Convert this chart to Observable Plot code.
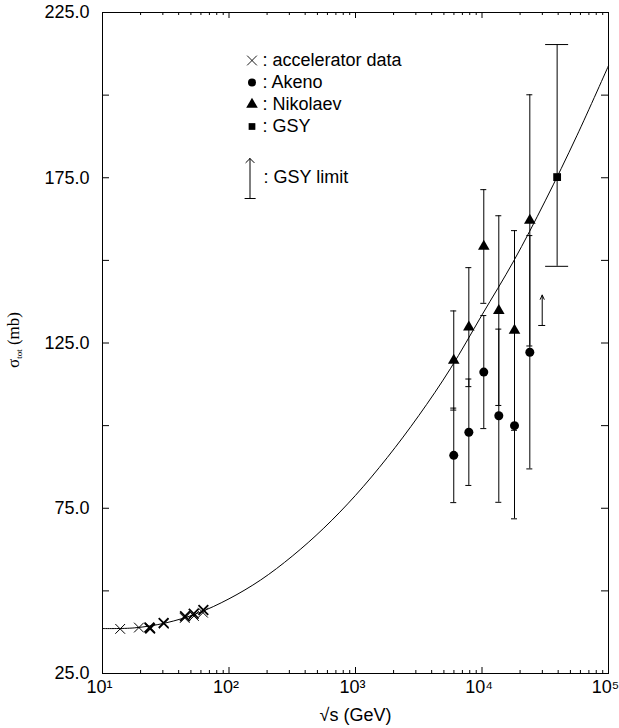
<!DOCTYPE html>
<html><head><meta charset="utf-8">
<script src="https://cdn.jsdelivr.net/npm/d3@7"></script>
<script src="https://cdn.jsdelivr.net/npm/@observablehq/plot@0.6"></script>
<style>body{margin:0;background:#fff} svg{display:block}</style>
</head><body><div id="chart"></div>
<script>
// accelerator data (sqrt(s) in GeV, sigma_tot in mb)
const accelE     = [13.8, 19.4, 23.5, 30.6, 44.7, 52.8, 62.3, 23.8, 30.4, 44.9, 52.6, 62.7];
const accelSigma = [38.5, 38.9, 38.9, 40.1, 41.8, 42.4, 43.4, 38.6, 40.3, 42.3, 43.1, 44.2];

// fitted curve
const fitE     = [10, 17.8, 31.6, 56.2, 100, 178, 316, 562, 1000, 1780, 3160, 5620, 10000, 17800, 31600, 56200, 100000];
const fitSigma = [38.6, 38.8, 40.3, 43.2, 47.6, 53.3, 60.5, 69.0, 78.9, 90.3, 103.0, 117.2, 133.5, 149.8, 168.0, 187.7, 208.9];

// cosmic-ray energies
const cosmicE     = [5980, 7870, 10330, 13580, 18070, 23880];
const akenoSigma  = [91.0, 98.0, 116.2, 103.0, 100.0, 122.2];
const akenoErr    = [14.3, 16.1, 17.1, 26.2, 28.2, 35.3];
const nikSigma    = [119.7, 129.8, 154.2, 134.8, 128.8, 162.1];
const nikErr      = [15.0, 18.0, 17.2, 28.7, 30.2, 38.0];

// GSY
const gsyE = [39260], gsySigma = [175.2], gsyHi = [215.3], gsyLo = [148.2];
const limitE = [29920], limitSigma = [130.3], limitTip = [139.5];

// axes
const yTickValues  = [25, 50, 75, 100, 125, 150, 175, 200, 225];
const yLabelValues = [25, 75, 125, 175, 225];
const xLabelValues = [10, 100, 1000, 10000, 100000];
const xSup = {1: "¹", 2: "²", 3: "³", 4: "⁴", 5: "⁵"};
const xMinor = [];
for (const dec of [10, 100, 1000, 10000]) for (const m of [2,3,4,5,6,7,8,9]) xMinor.push(dec*m);

const legendLabels = [": accelerator data", ": Akeno", ": Nikolaev", ": GSY"];
const legendLimit = ": GSY limit";
const xTitle = "√s (GeV)";

const accel = accelE.map((e,i)=>({e, s: accelSigma[i], bold: i >= 7 || i === 2}));
const fit = fitE.map((e,i)=>({e, s: fitSigma[i]}));
const akeno = cosmicE.map((e,i)=>({e, s: akenoSigma[i], lo: akenoSigma[i]-akenoErr[i], hi: akenoSigma[i]+akenoErr[i]}));
const nik = cosmicE.map((e,i)=>({e, s: nikSigma[i], lo: nikSigma[i]-nikErr[i], hi: nikSigma[i]+nikErr[i]}));
const gsy = gsyE.map((e,i)=>({e, s: gsySigma[i], lo: gsyLo[i], hi: gsyHi[i]}));
const limit = limitE.map((e,i)=>({e, s: limitSigma[i], tip: limitTip[i]}));

const W = 619, H = 728, mL = 102, mR = 11, mT = 12, mB = 55;
const iw = W - mL - mR, ih = H - mT - mB;
const font = "'Liberation Sans', Arial, Helvetica, sans-serif";

function errMarks(data, cap) {
  return [
    Plot.ruleX(data, {x: "e", y1: "lo", y2: "hi", stroke: "#000", strokeWidth: 1}),
    Plot.ruleY(data, {y: "lo", x1: "e", x2: "e", insetLeft: -cap, insetRight: -cap, stroke: "#000"}),
    Plot.ruleY(data, {y: "hi", x1: "e", x2: "e", insetLeft: -cap, insetRight: -cap, stroke: "#000"})
  ];
}

const legendRows = [
  {symbol: "times", fill: "none", stroke: "#000", strokeWidth: 0.9, r: 4.5},
  {symbol: "circle", fill: "#000", stroke: null, r: 4},
  {symbol: "triangle", fill: "#000", stroke: null, r: 4.3},
  {symbol: "square", fill: "#000", stroke: null, r: 3.8}
];

const plot = Plot.plot({
  width: W, height: H,
  marginLeft: mL, marginRight: mR, marginTop: mT, marginBottom: mB,
  style: {fontFamily: font, fontSize: "18px", color: "#000", background: "#fff"},
  x: {type: "log", domain: [10, 1e5]},
  y: {domain: [25, 225]},
  marks: [
    Plot.frame({stroke: "#000", strokeWidth: 1}),
    // inward ticks
    Plot.tickX(xMinor, {x: d => d, insetTop: ih - 3, stroke: "#000"}),
    Plot.tickX(xMinor, {x: d => d, insetBottom: ih - 3, stroke: "#000"}),
    Plot.tickX(xLabelValues, {x: d => d, insetTop: ih - 6, stroke: "#000"}),
    Plot.tickX(xLabelValues, {x: d => d, insetBottom: ih - 6, stroke: "#000"}),
    Plot.tickY(yTickValues, {y: d => d, insetRight: iw - 7, stroke: "#000"}),
    Plot.tickY(yTickValues, {y: d => d, insetLeft: iw - 7, stroke: "#000"}),
    // tick labels
    Plot.axisX(xLabelValues, {tickSize: 0, tickPadding: 7, label: null, fontSize: 18, dx: -3,
      tickFormat: d => "10" + xSup[Math.round(Math.log10(d))]}),
    Plot.axisY(yLabelValues, {tickSize: 0, tickPadding: 13, label: null, fontSize: 18,
      tickFormat: d => d.toFixed(1)}),
    Plot.text([xTitle], {frameAnchor: "bottom", dy: 42, fontSize: 18, lineAnchor: "middle"}),
    // fit curve
    Plot.line(fit, {x: "e", y: "s", curve: "catmull-rom", stroke: "#000", strokeWidth: 1}),
    // error bars
    ...errMarks(akeno, 3),
    ...errMarks(nik, 3),
    ...errMarks(gsy, 11.5),
    // GSY limit
    Plot.arrow(limit, {x1: "e", x2: "e", y1: "s", y2: "tip", headLength: 7, headAngle: 50, stroke: "#000", strokeWidth: 1}),
    Plot.ruleY(limit, {y: "s", x1: "e", x2: "e", insetLeft: -3.5, insetRight: -3.5, stroke: "#000"}),
    // points
    Plot.dot(accel, {x: "e", y: "s", symbol: "times", r: 4.5, stroke: "#000", strokeWidth: d => d.bold ? 1.8 : 1}),
    Plot.dot(akeno, {x: "e", y: "s", symbol: "circle", r: 4.5, fill: "#000", stroke: null}),
    Plot.dot(nik, {x: "e", y: "s", symbol: "triangle", r: 4.3, fill: "#000", stroke: null}),
    Plot.dot(gsy, {x: "e", y: "s", symbol: "square", r: 4.4, fill: "#000", stroke: null}),
    // legend
    ...legendRows.map((row, i) => Plot.dot([0], {frameAnchor: "top-left", dx: 149.5, dy: 48 + i * 22, ...row})),
    ...legendLabels.map((t, i) => Plot.text([t], {frameAnchor: "top-left", dx: 160, dy: 48 + i * 22, textAnchor: "start", lineAnchor: "middle", fontSize: 18})),
    Plot.vector([0], {frameAnchor: "top-left", dx: 147.5, dy: 186, length: 40, rotate: 0, anchor: "start", shape: "arrow", r: 1.8, stroke: "#000", strokeWidth: 1}),
    Plot.vector([0], {frameAnchor: "top-left", dx: 147.5, dy: 186, length: 10, rotate: 90, anchor: "middle", shape: "arrow", r: 0, stroke: "#000", strokeWidth: 1}),
    Plot.text([legendLimit], {frameAnchor: "top-left", dx: 161, dy: 165, textAnchor: "start", lineAnchor: "middle", fontSize: 18})
  ]
});

// y axis title with subscript
const svg = d3.select(plot);
const yt = svg.append("text")
  .attr("transform", "translate(19,340) rotate(-90)")
  .attr("text-anchor", "middle")
  .attr("font-family", "'Liberation Serif', 'Times New Roman', serif")
  .attr("font-size", 17)
  .attr("fill", "#000");
yt.append("tspan").text("σ");
yt.append("tspan").attr("font-size", 9).attr("dy", 3).text("tot");
yt.append("tspan").attr("dy", -3).text(" (mb)");

document.getElementById("chart").appendChild(plot);
</script>
</body></html>
